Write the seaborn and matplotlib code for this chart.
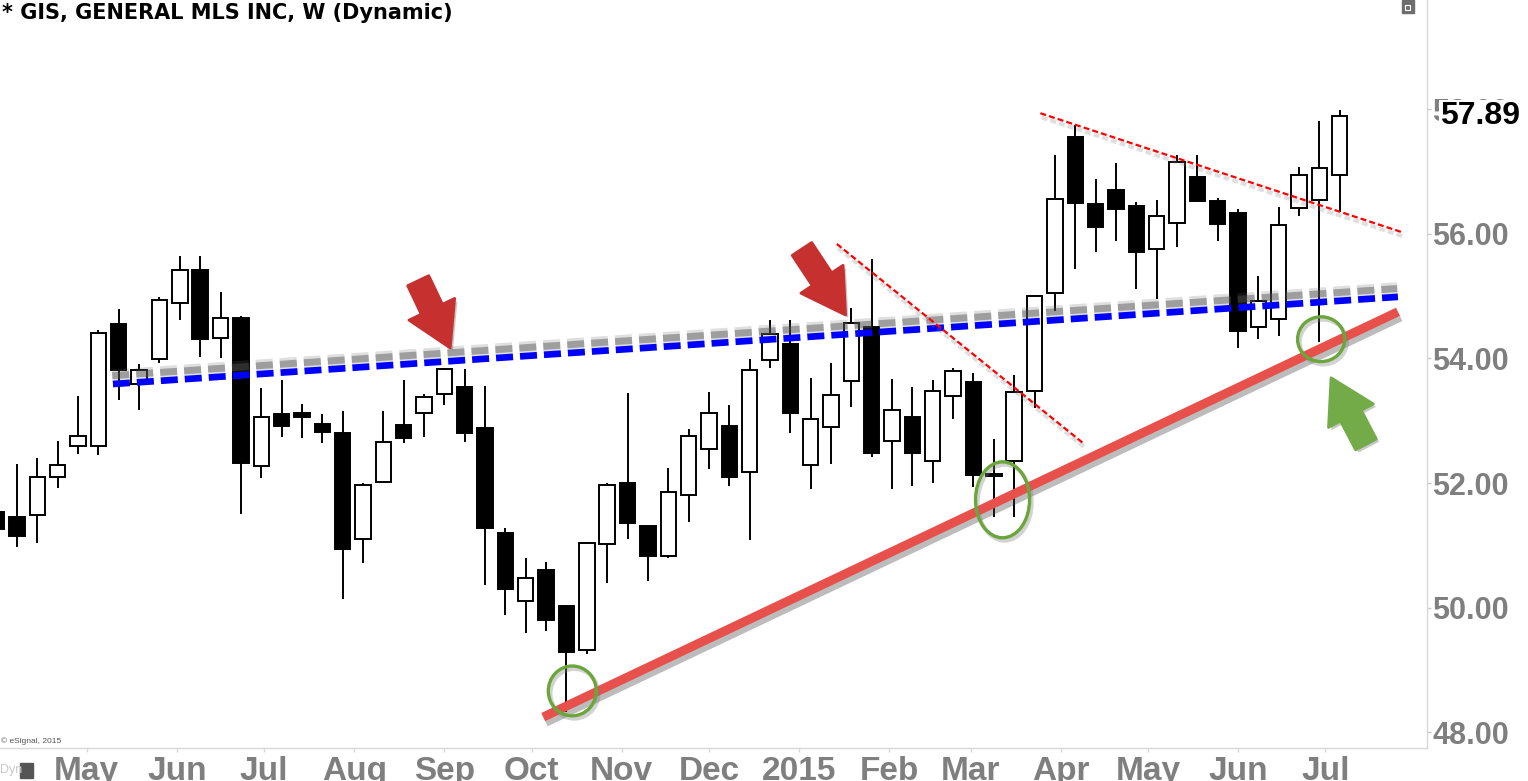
import pandas as pd
import matplotlib
matplotlib.use('Agg')
import matplotlib.pyplot as plt
import matplotlib.dates as mdates
import matplotlib.patheffects as pe
from matplotlib.patches import Ellipse, FancyArrowPatch, Rectangle
from matplotlib import font_manager
import seaborn as sns

# weekly bars (Monday of each week), GIS weekly prices
week_start = '2014-03-31'
n_weeks = 67
opens = [51.53, 51.45, 51.49, 52.10, 52.59, 52.59, 54.55, 53.59, 53.99, 54.89,
         55.42, 54.33, 54.65, 52.27, 53.11, 53.12, 52.95, 52.80, 51.10, 52.02,
         52.93, 53.12, 53.43, 53.54, 52.88, 51.20, 50.10, 50.60, 50.02, 49.32,
         51.02, 52.00, 51.31, 50.83, 51.81, 52.55, 52.92, 52.18, 53.98, 54.23,
         52.29, 52.90, 53.64, 54.51, 52.67, 53.06, 52.35, 53.40, 53.62, 52.11,
         52.35, 53.48, 55.05, 57.56, 56.48, 56.71, 56.45, 55.76, 56.18, 56.92,
         56.53, 56.34, 54.51, 54.63, 56.42, 56.55, 56.95]
highs = [51.62, 52.31, 52.40, 52.67, 53.40, 54.46, 54.80, 53.91, 54.99, 55.65,
         55.65, 55.07, 54.68, 53.53, 53.65, 53.27, 53.11, 53.16, 52.00, 53.16,
         53.65, 53.43, 53.85, 53.83, 53.56, 51.28, 50.80, 50.73, 50.04, 51.05,
         52.00, 53.45, 51.31, 52.24, 52.87, 53.46, 53.25, 53.99, 54.62, 54.62,
         53.69, 53.93, 54.81, 55.60, 53.67, 53.54, 53.65, 53.85, 53.77, 52.71,
         53.73, 55.02, 57.27, 57.75, 56.88, 57.14, 56.51, 56.55, 57.27, 57.27,
         56.58, 56.40, 55.33, 56.43, 57.08, 57.82, 57.99]
lows = [51.18, 50.97, 51.04, 51.92, 52.47, 52.45, 53.33, 53.17, 53.93, 54.62,
        54.02, 54.01, 51.50, 52.08, 52.74, 52.72, 52.64, 50.14, 50.71, 52.02,
        52.64, 52.74, 53.25, 52.66, 50.36, 49.88, 49.59, 49.62, 48.32, 49.25,
        50.39, 51.10, 50.43, 50.80, 51.37, 52.22, 51.95, 51.08, 53.85, 52.80,
        51.90, 52.31, 53.22, 52.42, 51.90, 51.95, 52.00, 53.03, 51.94, 51.45,
        51.45, 53.20, 54.76, 55.44, 55.71, 55.89, 55.12, 54.96, 55.79, 56.53,
        55.89, 54.17, 54.31, 54.36, 56.29, 54.27, 56.35]
closes = [51.26, 51.15, 52.10, 52.29, 52.75, 54.41, 53.82, 53.82, 54.94, 55.42,
          54.31, 54.65, 52.32, 53.06, 52.92, 53.06, 52.82, 50.94, 51.97, 52.66,
          52.72, 53.38, 53.83, 52.80, 51.28, 50.30, 50.47, 49.80, 49.29, 51.04,
          51.97, 51.36, 50.83, 51.86, 52.75, 53.12, 52.10, 53.82, 54.39, 53.12,
          53.03, 53.41, 54.57, 52.48, 53.17, 52.48, 53.48, 53.80, 52.13, 52.14,
          53.46, 55.00, 56.56, 56.50, 56.11, 56.40, 55.71, 56.29, 57.16, 56.53,
          56.16, 54.44, 54.92, 56.14, 56.95, 57.06, 57.89]

month_starts = pd.date_range('2014-05-01', '2015-07-01', freq='MS')
month_labels = ['May', 'Jun', 'Jul', 'Aug', 'Sep', 'Oct', 'Nov', 'Dec', '2015',
                'Feb', 'Mar', 'Apr', 'May', 'Jun', 'Jul']
price_ticks = [48, 50, 52, 54, 56, 58]
last_price = 57.89

# trendlines drawn on the chart (dates, prices)
support_dates = ['2014-10-05', '2015-07-26']
support_prices = [48.24, 54.75]
resist_dates = ['2014-05-10', '2015-07-26']
resist_prices = [53.59, 54.99]
fall1_dates = ['2015-01-14', '2015-04-09']
fall1_prices = [55.84, 52.63]
fall2_dates = ['2015-03-25', '2015-07-28']
fall2_prices = [57.94, 56.02]

# highlighted touches (centre dates / prices)
touch_dates = ['2014-10-15', '2015-03-12', '2015-06-29 14:00']
touch_prices = [48.66, 51.73, 54.31]

# arrows: tail -> tip
red_arrows = [(('2014-08-23', 55.25), ('2014-09-03', 54.17)),
              (('2015-01-02', 55.76), ('2015-01-17', 54.70))]
green_arrow = (('2015-07-15', 52.62), ('2015-07-03', 53.69))


def dnum(d):
    return mdates.date2num(pd.Timestamp(d))


sns.set_theme(style='white')
plt.rcParams['font.family'] = ['Liberation Sans', 'DejaVu Sans']

names = {f.name for f in font_manager.fontManager.ttflist}
if 'Liberation Sans Narrow' in names:
    month_font, month_size = 'Liberation Sans Narrow', 27
else:
    month_font, month_size = 'Liberation Sans', 24

dates = pd.date_range(week_start, periods=n_weeks, freq='7D')
df = pd.DataFrame({'date': dates, 'open': opens, 'high': highs,
                   'low': lows, 'close': closes})
df['x'] = mdates.date2num(df['date'])
df['bottom'] = df[['open', 'close']].min(axis=1)
df['height'] = (df['close'] - df['open']).abs()
df['fill'] = ['white' if c >= o else 'black' for o, c in zip(df['open'], df['close'])]

fig = plt.figure(figsize=(15.28, 7.81), dpi=100)
ax = fig.add_axes([0, 33 / 781, 1427 / 1528, 748 / 781])

# candles
ax.vlines(df['x'], df['low'], df['high'], color='black', linewidth=1.4, zorder=2)
ax.bar(df['x'], df['height'], width=5.3, bottom=df['bottom'], color=df['fill'],
       edgecolor='black', linewidth=1.4, zorder=3)

# trendlines
sns.lineplot(x=[dnum(d) for d in resist_dates], y=resist_prices, ax=ax,
             color='#0000ff', linewidth=4.8, linestyle=(0, (2.55, 1.05)), zorder=5,
             path_effects=[pe.SimpleLineShadow(offset=(-0.5, 6), shadow_color='#606060',
                                               alpha=0.2, linewidth=9),
                           pe.SimpleLineShadow(offset=(-0.5, 6), shadow_color='#505050',
                                               alpha=0.45, linewidth=5),
                           pe.Normal()])
sns.lineplot(x=[dnum(d) for d in support_dates], y=support_prices, ax=ax,
             color='#e8504b', linewidth=6.5, solid_capstyle='butt', zorder=5,
             path_effects=[pe.SimpleLineShadow(offset=(1.5, -3), shadow_color='#404040',
                                               alpha=0.35, linewidth=8),
                           pe.Normal()])
for fd, fp in [(fall1_dates, fall1_prices), (fall2_dates, fall2_prices)]:
    sns.lineplot(x=[dnum(d) for d in fd], y=fp, ax=ax, color='#ff0000',
                 linewidth=1.6, linestyle=(0, (2.7, 1.4)), zorder=5,
                 path_effects=[pe.SimpleLineShadow(offset=(1, -3), shadow_color='#808080',
                                                   alpha=0.25, linewidth=3),
                               pe.Normal()])

# green circles
touch_sizes = [(16.5, 0.80), (18.6, 1.22), (16.2, 0.72)]
for d, p, (w, h) in zip(touch_dates, touch_prices, touch_sizes):
    ax.add_patch(Ellipse((dnum(d), p), w, h, facecolor='none', edgecolor='#6aa63a',
                         linewidth=2.4, zorder=7,
                         path_effects=[pe.SimpleLineShadow(offset=(1.5, -2),
                                                           shadow_color='#808080',
                                                           alpha=0.35, linewidth=3),
                                       pe.Normal()]))

# arrows
arrow_style = 'simple,head_length=2.2,head_width=2.6,tail_width=1.2'
arrow_shadow = [pe.withSimplePatchShadow(offset=(2, -2), shadow_rgbFace='#606060',
                                         alpha=0.35)]
for (t, tp), (h, hp) in red_arrows:
    ax.add_patch(FancyArrowPatch((dnum(t), tp), (dnum(h), hp), arrowstyle=arrow_style,
                                 mutation_scale=14, color='#c6302e', shrinkA=0, shrinkB=0,
                                 joinstyle='round', capstyle='round', linewidth=2,
                                 zorder=7, path_effects=arrow_shadow))
(t, tp), (h, hp) = green_arrow
ax.add_patch(FancyArrowPatch((dnum(t), tp), (dnum(h), hp), arrowstyle=arrow_style,
                             mutation_scale=14, color='#72ab48', shrinkA=0, shrinkB=0,
                             joinstyle='round', capstyle='round', linewidth=2,
                             zorder=7, path_effects=arrow_shadow))

# axes styling
ax.set_xlim(dnum('2014-04-01 03:30'), dnum('2015-08-05'))
ax.set_ylim(47.743, 59.759)
ax.set_facecolor('white')
for side in ['left', 'top']:
    ax.spines[side].set_visible(False)
for side in ['right', 'bottom']:
    ax.spines[side].set_color('#d8d8d8')
    ax.spines[side].set_linewidth(1)

ax.yaxis.tick_right()
ax.set_yticks(price_ticks)
ax.set_yticklabels([f'{v:.2f}' for v in price_ticks], fontsize=22, fontweight='bold',
                   color='#7f7f7f')
ax.tick_params(axis='y', length=3, width=1, color='#c8c8c8', pad=1, right=True, left=False)

ax.set_xticks(mdates.date2num(month_starts))
ax.set_xticklabels(month_labels, fontsize=month_size, fontweight='bold', color='#7f7f7f',
                   family=month_font)
ax.tick_params(axis='x', length=3, width=1, color='#d8d8d8', pad=3, bottom=True)
ax.set_xlabel('')
ax.set_ylabel('')
ax.grid(False)

ax.text(1.009, last_price, '57.89', transform=ax.get_yaxis_transform(), ha='left',
        va='center', fontsize=23, fontweight='bold', color='black', clip_on=False,
        zorder=10, bbox=dict(facecolor='white', edgecolor='none', pad=1))

# header / footer texts
fig.text(2 / 1528, 1 - 13 / 781, '* GIS, GENERAL MLS INC, W (Dynamic)', fontsize=15,
         fontweight='bold', color='black', ha='left', va='center', family='DejaVu Sans')
fig.text(1 / 1528, 1 - 741 / 781, '\u00a9 eSignal, 2015', fontsize=6, color='#555555',
         ha='left', va='center')
fig.text(0, 1 - 770 / 781, 'Dyn', fontsize=9, color='#c8c8c8', ha='left', va='center')
fig.add_artist(Rectangle((20 / 1528, 1 - 778 / 781), 13 / 1528, 15 / 781,
                         transform=fig.transFigure, color='#555555'))
fig.add_artist(Rectangle((1402 / 1528, 1 - 13 / 781), 12 / 1528, 13 / 781,
                         transform=fig.transFigure, color='#6d6d6d'))
fig.add_artist(Rectangle((1405 / 1528, 1 - 10 / 781), 5 / 1528, 5 / 781,
                         transform=fig.transFigure, facecolor='none', edgecolor='white',
                         linewidth=0.8))

fig.savefig('out.png', dpi=100, facecolor='white')
